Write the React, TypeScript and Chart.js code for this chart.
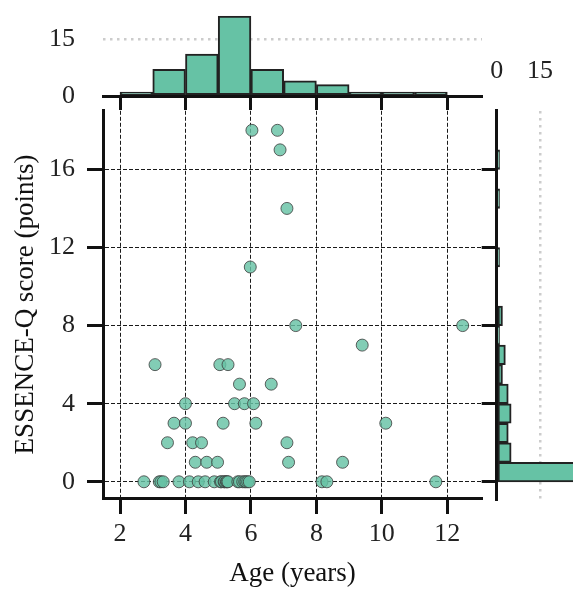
import React, { useEffect, useRef } from 'react';
import { Chart, registerables } from 'chart.js';

Chart.register(...registerables);

// ---- Data ----
const ageYears = [
  // score 0
  2.73, 3.2, 3.25, 3.32, 3.8, 4.12, 4.39, 4.6, 4.88, 5.07, 5.1, 5.18, 5.2, 5.25, 5.27, 5.3,
  5.6, 5.65, 5.75, 5.81, 5.85, 5.9, 5.95, 8.17, 8.32, 11.65,
  // score 1
  4.3, 4.65, 4.98, 7.15, 8.8,
  // score 2
  3.45, 4.22, 4.49, 7.1,
  // score 3
  3.65, 4.0, 5.15, 6.15, 10.12,
  // score 4
  4.0, 5.5, 5.8, 6.08,
  // score 5
  5.65, 6.62,
  // score 6
  3.07, 5.05, 5.3,
  // score 7
  9.4,
  // score 8
  7.37, 12.47,
  // score 11
  5.98,
  // score 14
  7.1,
  // score 17
  6.89,
  // score 18
  6.03, 6.81,
];
const essenceScores = [
  0, 0, 0, 0, 0, 0, 0, 0, 0, 0, 0, 0, 0, 0, 0, 0,
  0, 0, 0, 0, 0, 0, 0, 0, 0, 0,
  1, 1, 1, 1, 1,
  2, 2, 2, 2,
  3, 3, 3, 3, 3,
  4, 4, 4, 4,
  5, 5,
  6, 6, 6,
  7,
  8, 8,
  11,
  14,
  17,
  18, 18,
];

const ageBinStarts = [2, 3, 4, 5, 6, 7, 8, 9, 10, 11];
const ageBinCounts = [1, 7, 11, 21, 7, 4, 3, 1, 1, 1];

const scoreBinStarts = [0, 1, 2, 3, 4, 5, 6, 7, 8, 11, 14, 16];
const scoreBinCounts = [28, 5, 4, 5, 4, 2, 3, 1, 2, 1, 1, 1];

const ageTicks = [2, 4, 6, 8, 10, 12];
const scoreTicks = [0, 4, 8, 12, 16];
const countTicks = [0, 15];

const AGE_MIN = 1.48;
const AGE_MAX = 13.06;
const SCORE_MAX = 19.0;

// ---- Styles ----
const FONT = "'Liberation Serif', 'Times New Roman', serif";
const GREEN = '#66c2a5';
const SCATTER_FILL = 'rgba(102,194,165,0.82)';
const INK = '#111111';
const DOT_GREY = '#cccccc';
const CLEAR = 'rgba(0,0,0,0)';

const fixedTicks = (vals: number[]) => (scale: any) => {
  scale.ticks = vals.map((v) => ({ value: v }));
};

const only15 = (ctx: any) => (ctx.tick && ctx.tick.value === 15 ? DOT_GREY : CLEAR);

const tickFont = { family: FONT, size: 26 };
const titleFont = { family: FONT, size: 27 };

export default function App() {
  const topRef = useRef<HTMLCanvasElement | null>(null);
  const mainRef = useRef<HTMLCanvasElement | null>(null);
  const rightRef = useRef<HTMLCanvasElement | null>(null);

  useEffect(() => {
    const common: any = {
      responsive: false,
      animation: false,
      devicePixelRatio: 1,
      events: [],
      plugins: { legend: { display: false }, tooltip: { enabled: false } },
    };

    // ---- Main scatter ----
    const main = new Chart(mainRef.current as HTMLCanvasElement, {
      type: 'scatter',
      data: {
        datasets: [
          {
            data: ageYears.map((x, i) => ({ x, y: essenceScores[i] })),
            backgroundColor: SCATTER_FILL,
            borderColor: 'rgba(60,60,60,0.8)',
            borderWidth: 1,
            pointRadius: 6,
            pointHoverRadius: 6,
          },
        ],
      },
      options: {
        ...common,
        layout: { padding: { left: 0, right: 8, top: 28.8, bottom: 0 } },
        scales: {
          x: {
            type: 'linear',
            min: AGE_MIN,
            max: AGE_MAX,
            afterBuildTicks: fixedTicks(ageTicks),
            afterFit: (s: any) => {
              s.height = 92;
            },
            grid: {
              color: '#1a1a1a',
              lineWidth: 1,
              tickLength: 16,
              tickWidth: 3,
              tickColor: INK,
            },
            border: { display: true, color: INK, width: 3, dash: [4, 2] },
            ticks: {
              font: tickFont,
              color: '#222',
              padding: 5,
              maxRotation: 0,
              callback: (v: any) => String(v),
            },
            title: {
              display: true,
              text: 'Age (years)',
              font: titleFont,
              color: INK,
              padding: { top: 0, bottom: 0 },
            },
          },
          y: {
            type: 'linear',
            min: -0.83,
            max: SCORE_MAX,
            afterBuildTicks: fixedTicks(scoreTicks),
            afterFit: (s: any) => {
              s.width = 103;
            },
            grid: {
              color: '#1a1a1a',
              lineWidth: 1,
              tickLength: 16,
              tickWidth: 3,
              tickColor: INK,
            },
            border: { display: true, color: INK, width: 3, dash: [4, 2] },
            ticks: {
              font: tickFont,
              color: '#222',
              padding: 12,
              callback: (v: any) => String(v),
            },
            title: {
              display: true,
              text: 'ESSENCE-Q score (points)',
              font: titleFont,
              color: INK,
              padding: { top: 10, bottom: 0 },
            },
          },
        },
      } as any,
    });

    // ---- Top histogram (age) ----
    const top = new Chart(topRef.current as HTMLCanvasElement, {
      type: 'bar',
      data: {
        datasets: [
          {
            data: ageBinStarts.map((s, i) => ({ x: s + 0.5, y: ageBinCounts[i] })),
            backgroundColor: GREEN,
            borderColor: '#222',
            borderWidth: 2,
            borderSkipped: false,
            barPercentage: 1,
            categoryPercentage: 1,
          } as any,
        ],
      },
      options: {
        ...common,
        layout: { padding: { left: 0, right: 8, top: 15.8, bottom: 0 } },
        scales: {
          x: {
            type: 'linear',
            offset: false,
            min: AGE_MIN,
            max: AGE_MAX,
            afterBuildTicks: fixedTicks(ageTicks),
            afterFit: (s: any) => {
              s.height = 19;
            },
            grid: {
              offset: false,
              drawOnChartArea: false,
              tickLength: 14,
              tickWidth: 3,
              tickColor: INK,
            },
            border: { display: true, color: INK, width: 3 },
            ticks: { display: false },
          },
          y: {
            type: 'linear',
            min: 0,
            max: 21.1,
            afterBuildTicks: fixedTicks(countTicks),
            afterFit: (s: any) => {
              s.width = 103;
            },
            grid: {
              color: only15,
              lineWidth: 2.5,
              drawTicks: true,
              tickLength: 28,
              tickColor: CLEAR,
            },
            border: { display: false, dash: [2.5, 4.5] },
            ticks: {
              font: tickFont,
              color: '#222',
              padding: 0,
              callback: (v: any) => String(v),
            },
          },
        },
      } as any,
    });

    // ---- Right histogram (score) ----
    const right = new Chart(rightRef.current as HTMLCanvasElement, {
      type: 'bar',
      data: {
        datasets: [
          {
            data: scoreBinStarts.map((s, i) => ({ x: scoreBinCounts[i], y: s + 0.5 })),
            backgroundColor: GREEN,
            borderColor: '#222',
            borderWidth: 2,
            borderSkipped: false,
            barPercentage: 1,
            categoryPercentage: 1,
          } as any,
        ],
      },
      options: {
        ...common,
        indexAxis: 'y',
        layout: { padding: { left: 0, right: 0, top: 0, bottom: 10 } },
        scales: {
          x: {
            type: 'linear',
            position: 'top',
            min: 0,
            max: 26.4,
            afterBuildTicks: fixedTicks(countTicks),
            afterFit: (s: any) => {
              s.height = 70.8;
            },
            grid: {
              color: only15,
              lineWidth: 2.5,
              drawTicks: true,
              tickLength: 24,
              tickColor: CLEAR,
            },
            border: { display: false, dash: [2.5, 4.5] },
            ticks: {
              font: tickFont,
              color: '#222',
              padding: 0,
              maxRotation: 0,
              callback: (v: any) => String(v),
            },
          },
          y: {
            type: 'linear',
            offset: false,
            min: -0.93,
            max: SCORE_MAX,
            afterBuildTicks: fixedTicks(scoreTicks),
            afterFit: (s: any) => {
              s.width = 26.7;
            },
            grid: {
              offset: false,
              drawOnChartArea: false,
              tickLength: 15,
              tickWidth: 3,
              tickColor: INK,
            },
            border: { display: true, color: INK, width: 3 },
            ticks: { display: false },
          },
        },
      } as any,
    });

    return () => {
      main.destroy();
      top.destroy();
      right.destroy();
    };
  }, []);

  const canvasStyle = (left: number, topPx: number, w: number, h: number): React.CSSProperties => ({
    position: 'absolute',
    left,
    top: topPx,
    width: w,
    height: h,
    display: 'block',
  });

  return (
    <div
      style={{
        position: 'absolute',
        left: 0,
        top: 0,
        width: 573,
        height: 590,
        overflow: 'hidden',
        background: '#ffffff',
      }}
    >
      <canvas ref={topRef} width={490} height={115} style={canvasStyle(0, 0, 490, 115)} />
      <canvas ref={mainRef} width={490} height={508} style={canvasStyle(0, 82, 490, 508)} />
      <canvas ref={rightRef} width={103} height={470} style={canvasStyle(470, 40, 103, 470)} />
    </div>
  );
}
